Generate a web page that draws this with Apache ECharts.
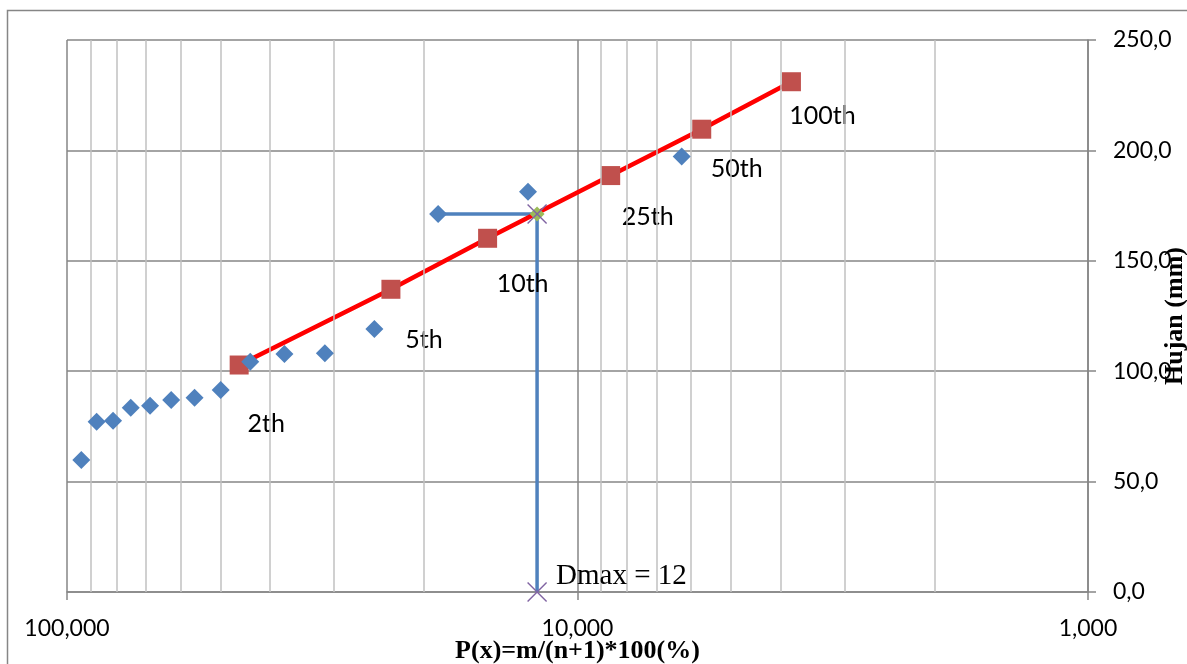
<!DOCTYPE html>
<html>
<head>
<meta charset="utf-8">
<script src="https://cdn.jsdelivr.net/npm/echarts@6/dist/echarts.min.js"></script>
<style>
html,body{margin:0;padding:0;background:#fff;}
#chart{width:1187px;height:664px;}
</style>
</head>
<body>
<div id="chart"></div>
<script>
// ---- data ----
const probObserved = [6.25, 12.5, 18.75, 25, 31.25, 37.5, 43.75, 50, 56.25, 62.5, 68.75, 75, 81.25, 87.5, 93.75];
const rainObserved = [197.2, 181.3, 171.2, 119.1, 108.1, 107.8, 104.3, 91.5, 88.0, 87.0, 84.4, 83.5, 77.6, 77.1, 59.8];

const returnLabels = ['2th', '5th', '10th', '25th', '50th', '100th'];
const probTheory = [46.0, 23.2, 15.0, 8.61, 5.71, 3.81];
const rainTheory = [102.8, 137.1, 160.2, 188.6, 209.6, 231.1];

const dmaxPathProb = [18.75, 12, 12];
const dmaxPathRain = [171.2, 171.2, 0];
const dmaxText = 'Dmax = 12';

const minorGridValues = [2, 3, 4, 5, 6, 7, 8, 9, 20, 30, 40, 50, 60, 70, 80, 90];
const yTicks = [0, 50, 100, 150, 200, 250];

// ---- styles (not data) ----
const labelOffsets = [[27, 59], [33, 51], [35, 46], [37, 41], [35, 40], [31, 34]];
const X_PATH = 'path://M0,1L1,0L10,9L19,0L20,1L11,10L20,19L19,20L10,11L1,20L0,19L9,10Z';

const zip = (a, b) => a.map((v, i) => [v, b[i]]);

const chart = echarts.init(document.getElementById('chart'), null, {renderer: 'canvas'});

const option = {
  animation: false,
  backgroundColor: '#ffffff',
  graphic: [{
    type: 'rect',
    shape: {x: 7.5, y: 10.5, width: 1300, height: 800},
    style: {fill: 'none', stroke: '#868686', lineWidth: 1.5},
    silent: true, z: 0
  }],
  grid: {left: 67, right: 99, top: 40, bottom: 72, containLabel: false, outerBoundsMode: 'none'},
  xAxis: {
    type: 'log',
    logBase: 10,
    min: 1,
    max: 100,
    inverse: true,
    name: 'P(x)=m/(n+1)*100(%)',
    nameLocation: 'middle',
    nameGap: 46,
    nameMoveOverlap: false,
    nameTextStyle: {fontFamily: 'Liberation Serif', fontWeight: 'bold', fontSize: 26, color: '#000'},
    axisLine: {show: true, lineStyle: {color: '#868686', width: 1.5}},
    axisTick: {show: true, length: 8, lineStyle: {color: '#868686', width: 1.5}},
    axisLabel: {
      margin: 25,
      fontFamily: 'Lato', fontSize: 23, color: '#000',
      formatter: v => v.toFixed(3).replace('.', ',')
    },
    splitLine: {show: true, lineStyle: {color: '#868686', width: 1.5}},
    minorTick: {show: false},
    minorSplitLine: {show: false}
  },
  yAxis: {
    type: 'value',
    position: 'right',
    min: yTicks[0],
    max: yTicks[yTicks.length - 1],
    interval: 50,
    name: 'Hujan (mm)',
    nameLocation: 'middle',
    nameRotate: 90,
    nameGap: 74,
    nameMoveOverlap: false,
    nameTextStyle: {fontFamily: 'Liberation Serif', fontWeight: 'bold', fontSize: 26, color: '#000'},
    axisLine: {show: true, lineStyle: {color: '#868686', width: 1.5}},
    axisTick: {show: true, length: 8, lineStyle: {color: '#868686', width: 1.5}},
    axisLabel: {
      margin: 25,
      fontFamily: 'Lato', fontSize: 23, color: '#000',
      formatter: v => v.toFixed(1).replace('.', ',')
    },
    splitLine: {show: true, lineStyle: {color: '#868686', width: 1.5}}
  },
  series: [
    {
      name: 'minorGrid',
      type: 'line',
      data: [],
      z: 1,
      silent: true,
      markLine: {
        silent: true,
        symbol: 'none',
        label: {show: false},
        lineStyle: {color: '#c0c0c0', width: 1.5, type: 'solid', opacity: 1},
        data: minorGridValues.map(v => ({xAxis: v}))
      }
    },
    {
      name: 'dmaxLine',
      type: 'line',
      z: 3,
      data: zip(dmaxPathProb, dmaxPathRain),
      showSymbol: false,
      symbol: 'none',
      lineStyle: {color: '#4f81bd', width: 3.5, opacity: 1},
      itemStyle: {color: '#4f81bd'}
    },
    {
      name: 'theory',
      type: 'line',
      z: 4,
      data: zip(probTheory, rainTheory).map((p, i) => ({
        value: p,
        label: {
          show: true,
          position: 'inside',
          offset: labelOffsets[i],
          formatter: returnLabels[i],
          fontFamily: 'Lato', fontSize: 25, color: '#000'
        }
      })),
      symbol: 'rect',
      symbolSize: 19,
      lineStyle: {color: '#ff0000', width: 4.5, opacity: 1},
      itemStyle: {color: '#c0504d', opacity: 1}
    },
    {
      name: 'observed',
      type: 'scatter',
      z: 5,
      data: zip(probObserved, rainObserved),
      symbol: 'diamond',
      symbolSize: 18,
      itemStyle: {color: '#4f81bd', opacity: 1}
    },
    {
      name: 'dmaxPoint',
      type: 'scatter',
      z: 6,
      data: [[dmaxPathProb[1], dmaxPathRain[1]]],
      symbol: 'diamond',
      symbolSize: 15,
      itemStyle: {color: '#9bbb59', opacity: 1}
    },
    {
      name: 'dmaxMarks',
      type: 'scatter',
      z: 7,
      data: [
        {value: [dmaxPathProb[1], dmaxPathRain[1]]},
        {value: [dmaxPathProb[2], dmaxPathRain[2]],
         label: {
           show: true, position: 'right', distance: 9, offset: [0, -16],
           formatter: dmaxText,
           fontFamily: 'Liberation Serif', fontSize: 29, color: '#000'
         }}
      ],
      symbol: X_PATH,
      symbolSize: 20,
      itemStyle: {color: '#8064a2', opacity: 1}
    }
  ]
};

chart.setOption(option);
</script>
</body>
</html>
